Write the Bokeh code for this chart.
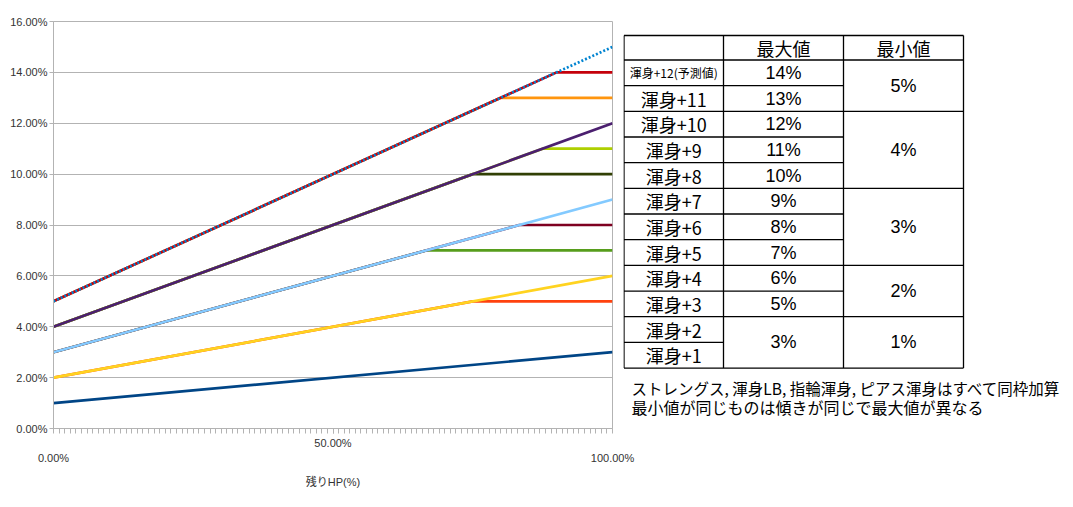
from bokeh.plotting import figure
from bokeh.models import FixedTicker, LinearAxis, Range1d, ColumnDataSource
from bokeh.layouts import row
from bokeh.embed import file_html
from bokeh.resources import INLINE
from bokeh.core.properties import value

# ---------------- data: remaining HP (%) -> bonus (%) ----------------
hp_1 = [0, 100];          bonus_1 = [1, 3]          # 渾身+1 / +2
hp_3 = [0, 75, 100];      bonus_3 = [2, 5, 5]       # 渾身+3
hp_4 = [0, 100];          bonus_4 = [2, 6]          # 渾身+4
hp_5 = [0, 66.67, 100];   bonus_5 = [3, 7, 7]       # 渾身+5
hp_6 = [0, 83.33, 100];   bonus_6 = [3, 8, 8]       # 渾身+6
hp_7 = [0, 100];          bonus_7 = [3, 9]          # 渾身+7
hp_8 = [0, 75, 100];      bonus_8 = [4, 10, 10]     # 渾身+8
hp_9 = [0, 87.5, 100];    bonus_9 = [4, 11, 11]     # 渾身+9
hp_10 = [0, 100];         bonus_10 = [4, 12]        # 渾身+10
hp_11 = [0, 80, 100];     bonus_11 = [5, 13, 13]    # 渾身+11
hp_12 = [0, 90, 100];     bonus_12 = [5, 14, 14]    # 渾身+12
hp_pred = [0, 100];       bonus_pred = [5, 15]      # 予測 (dotted)

series_colors = ["#004586", "#ff420e", "#ffd320", "#579d1c", "#7e0021", "#83caff",
                 "#314004", "#aecf00", "#4b1f6f", "#ff950e", "#c5000b", "#0084d1"]

y_ticks = [0, 2, 4, 6, 8, 10, 12, 14, 16]
y_tick_labels = ["0.00%", "2.00%", "4.00%", "6.00%", "8.00%", "10.00%", "12.00%", "14.00%", "16.00%"]
x_ticks_upper = [50]
x_tick_labels_upper = ["50.00%"]
x_ticks_lower = [0, 100]
x_tick_labels_lower = ["0.00%", "100.00%"]
x_title = "残りHP(%)"

# table
header_labels = ["最大値", "最小値"]
row_labels = ["渾身+12(予測値)", "渾身+11", "渾身+10", "渾身+9", "渾身+8", "渾身+7",
              "渾身+6", "渾身+5", "渾身+4", "渾身+3", "渾身+2", "渾身+1"]
max_vals = ["14%", "13%", "12%", "11%", "10%", "9%", "8%", "7%", "6%", "5%", "3%"]
max_spans = [1, 1, 1, 1, 1, 1, 1, 1, 1, 1, 2]
min_vals = ["5%", "4%", "3%", "2%", "1%"]
min_spans = [2, 3, 3, 2, 2]
caption = ["ストレングス, 渾身LB, 指輪渾身, ピアス渾身はすべて同枠加算",
           "最小値が同じものは傾きが同じで最大値が異なる"]

LAT = "'Liberation Sans', 'Noto Sans CJK JP'"
CJK = "'Noto Sans CJK JP'"
GREY = "#b3b3b3"

BT, BB = 21, 70   # top / bottom borders shared by both figures (frames aligned)
H = 498

# ---------------- chart ----------------
p1 = figure(width=658, height=H, x_range=Range1d(0, 100), y_range=Range1d(0, 16),
            x_axis_location=None, output_backend="svg", toolbar_location=None,
            min_border_left=53, min_border_right=46, min_border_top=BT, min_border_bottom=BB)
p1.outline_line_color = GREY
p1.xgrid.visible = False
p1.ygrid.grid_line_color = GREY

ya = p1.yaxis[0]
ya.ticker = FixedTicker(ticks=y_ticks)
ya.major_label_overrides = dict(zip(y_ticks, y_tick_labels))
ya.axis_line_color = GREY
ya.major_tick_line_color = GREY
ya.minor_tick_line_color = None
ya.major_tick_in = 0
ya.major_tick_out = 4
ya.major_label_standoff = 2
ya.major_label_text_font = LAT
ya.major_label_text_font_size = "11px"
ya.major_label_text_color = "#333333"

ax1 = LinearAxis(ticker=FixedTicker(ticks=x_ticks_upper, minor_ticks=list(range(0, 101))),
                 major_label_overrides=dict(zip(x_ticks_upper, x_tick_labels_upper)),
                 axis_line_color=GREY, major_tick_line_color=GREY, minor_tick_line_color=GREY,
                 major_tick_in=0, major_tick_out=5, minor_tick_in=0, minor_tick_out=5,
                 major_label_standoff=3, major_label_text_font=LAT,
                 major_label_text_font_size="11px", major_label_text_color="#333333")
ax2 = LinearAxis(ticker=FixedTicker(ticks=x_ticks_lower, minor_ticks=[]),
                 major_label_overrides=dict(zip(x_ticks_lower, x_tick_labels_lower)),
                 axis_line_color=None, major_tick_line_color=None, minor_tick_line_color=None,
                 major_tick_in=0, major_tick_out=0, minor_tick_in=0, minor_tick_out=0,
                 major_label_standoff=0, major_label_text_font=LAT,
                 major_label_text_font_size="11px", major_label_text_color="#333333",
                 axis_label=x_title, axis_label_text_font=LAT, axis_label_text_font_size="11px",
                 axis_label_text_font_style="normal", axis_label_text_color="#333333",
                 axis_label_standoff=9)
p1.add_layout(ax1, "below")
p1.add_layout(ax2, "below")

series = [(hp_1, bonus_1), (hp_3, bonus_3), (hp_4, bonus_4), (hp_5, bonus_5), (hp_6, bonus_6),
          (hp_7, bonus_7), (hp_8, bonus_8), (hp_9, bonus_9), (hp_10, bonus_10),
          (hp_11, bonus_11), (hp_12, bonus_12)]
for (xs, ys), c in zip(series, series_colors):
    p1.line(xs, ys, line_color=c, line_width=2.7)
p1.line(hp_pred, bonus_pred, line_color=series_colors[11], line_width=2.7, line_dash="2 2")

# ---------------- table (coordinates in picture pixels) ----------------
# p2 frame spans the same vertical extent as the chart frame: y 21 (top) .. 428 (bottom)
X0, X1 = 623, 1073
p2 = figure(width=X1 - X0, height=H, x_range=Range1d(X0, X1), y_range=Range1d(428, 21),
            x_axis_location=None, y_axis_location=None, output_backend="svg",
            toolbar_location=None, min_border_left=0, min_border_right=0,
            min_border_top=BT, min_border_bottom=BB, outline_line_color=None,
            background_fill_color=None, border_fill_color=None, margin=(0, 0, 0, -35))
p2.grid.visible = False

cols = [623.5, 723, 843, 963]
top = 35.0
header_h = 24.5
row_h = 25.67
body_top = top + header_h
n = len(row_labels)
bottom = body_top + n * row_h

def cum(spans):
    out, s = [], 0
    for v in spans:
        s += v
        out.append(s)
    return out

max_b = cum(max_spans)
min_b = cum(min_spans)

x0s, y0s, x1s, y1s = [], [], [], []
for yy in (top, body_top, bottom):
    x0s.append(cols[0]); x1s.append(cols[3]); y0s.append(yy); y1s.append(yy)
for k in range(1, n):
    yy = body_top + k * row_h
    x0s.append(cols[0]); x1s.append(cols[1]); y0s.append(yy); y1s.append(yy)
    if k in max_b:
        x0s.append(cols[1]); x1s.append(cols[2]); y0s.append(yy); y1s.append(yy)
    if k in min_b:
        x0s.append(cols[2]); x1s.append(cols[3]); y0s.append(yy); y1s.append(yy)
for cx in cols:
    x0s.append(cx); x1s.append(cx); y0s.append(top); y1s.append(bottom)
p2.segment(x0s, y0s, x1s, y1s, line_color="#000000", line_width=1.3)

# header
p2.text([(cols[1] + cols[2]) / 2, (cols[2] + cols[3]) / 2], [top + header_h / 2] * 2,
        text=header_labels, text_align="center", text_baseline="middle",
        text_font=value(CJK), text_font_size="18px", text_color="#000000")
# row labels
lab_x = [(cols[0] + cols[1]) / 2] * n
lab_y = [body_top + (i + 0.5) * row_h for i in range(n)]
sizes = ["12px" if "予測" in s else "18px" for s in row_labels]
p2.text(x="x", y="y", text="t", text_font_size="s", source=ColumnDataSource(
        dict(x=lab_x, y=lab_y, t=row_labels, s=sizes)),
        text_align="center", text_baseline="middle", text_font=value(CJK), text_color="#000000")

def span_centers(spans):
    out, s = [], 0
    for v in spans:
        out.append(body_top + (s + v / 2) * row_h)
        s += v
    return out

p2.text([(cols[1] + cols[2]) / 2] * len(max_vals), span_centers(max_spans), text=max_vals,
        text_align="center", text_baseline="middle", text_font=value(LAT),
        text_font_size="18px", text_color="#000000")
p2.text([(cols[2] + cols[3]) / 2] * len(min_vals), span_centers(min_spans), text=min_vals,
        text_align="center", text_baseline="middle", text_font=value(LAT),
        text_font_size="18px", text_color="#000000")

p2.text(x="x", y="y", text="t", text_font_size="s", source=ColumnDataSource(
        dict(x=[631, 631], y=[387, 406], t=caption, s=["15.5px", "16px"])),
        text_align="left", text_baseline="middle", text_font=value(CJK), text_color="#000000")

layout = row(p1, p2)
open("out.html", "w").write(file_html(layout, INLINE))
